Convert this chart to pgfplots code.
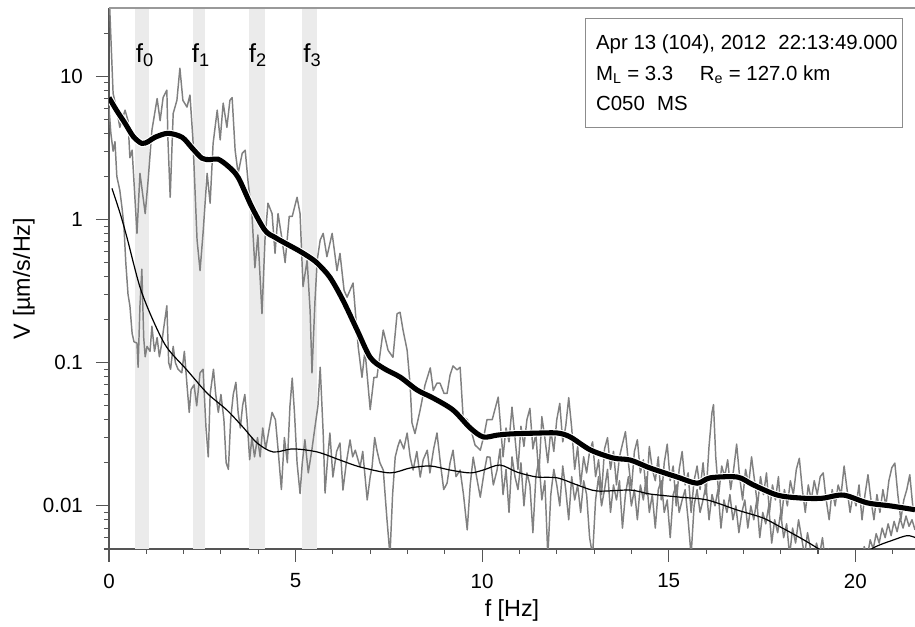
\documentclass[border=0pt]{standalone}
\usepackage{fontspec}
\setmainfont{Liberation Sans}
\usepackage{pgfplots}
\usepackage{pgfplotstable}
\pgfplotsset{compat=1.18}
\definecolor{band}{RGB}{235,235,235}
\definecolor{graytr}{RGB}{128,128,128}
\definecolor{axc}{RGB}{85,85,85}

\pgfplotstableread{
x v
0.00 40
0.11 7.6
0.21 5.8
0.29 4.4
0.43 5.8
0.51 4.9
0.56 2.7
0.62 3.05
0.75 0.80
0.83 2.1
0.97 1.1
1.05 1.9
1.15 4.2
1.29 7.0
1.37 4.9
1.45 7.1
1.55 8.0
1.58 3.6
1.64 1.43
1.72 5.5
1.82 6.8
1.90 11.4
1.98 6.8
2.09 6.1
2.17 7.4
2.25 3.6
2.36 0.72
2.44 0.44
2.52 0.80
2.63 2.1
2.71 1.3
2.79 3.4
2.90 5.8
2.98 3.6
3.06 6.5
3.16 4.4
3.24 6.8
3.30 7.1
3.38 3.05
3.46 2.1
3.57 2.9
3.65 3.05
3.73 1.8
3.83 1.1
3.91 0.46
3.99 0.78
4.10 0.22
4.18 0.72
4.26 1.3
4.37 1.1
4.45 0.58
4.53 1.1
4.64 0.72
4.72 0.5
4.83 1.05
4.91 1.05
5.04 1.43
5.12 1.1
5.20 0.34
5.31 0.52
5.39 0.23
5.44 0.085
5.52 0.27
5.58 0.52
5.66 0.72
5.74 0.80
5.84 0.55
5.98 0.80
6.11 0.44
6.19 0.58
6.30 0.32
6.38 0.287
6.54 0.36
6.68 0.128
6.78 0.079
6.86 0.122
7.00 0.047
7.10 0.079
7.18 0.079
7.35 0.169
7.48 0.122
7.61 0.109
7.72 0.22
7.80 0.225
7.88 0.169
7.99 0.122
8.07 0.07
8.12 0.038
8.20 0.032
8.34 0.047
8.47 0.07
8.61 0.092
8.69 0.064
8.79 0.072
8.87 0.072
8.98 0.061
9.06 0.061
9.14 0.082
9.22 0.095
9.33 0.089
9.41 0.093
9.49 0.0417
9.60 0.04
9.68 0.0356
9.81 0.0266
9.95 0.0245
10.05 0.031
10.13 0.04
10.27 0.04
10.43 0.0575
10.48 0.040
10.56 0.022
10.64 0.035
10.72 0.028
10.80 0.049
10.88 0.030
10.96 0.018
11.04 0.036
11.12 0.026
11.20 0.040
11.28 0.048
11.36 0.025
11.44 0.032
11.52 0.016
11.60 0.042
11.68 0.030
11.76 0.020
11.84 0.034
11.92 0.024
12.00 0.040
12.08 0.052
12.16 0.028
12.24 0.036
12.32 0.057
12.40 0.035
12.48 0.018
12.56 0.026
12.64 0.014
12.72 0.022
12.80 0.017
12.88 0.024
12.96 0.028
13.04 0.016
13.12 0.021
13.20 0.012
13.28 0.025
13.36 0.030
13.44 0.018
13.52 0.024
13.60 0.014
13.68 0.022
13.76 0.027
13.84 0.033
13.92 0.020
14.00 0.013
14.08 0.024
14.16 0.029
14.24 0.017
14.32 0.021
14.40 0.012
14.48 0.026
14.56 0.018
14.64 0.015
14.72 0.022
14.80 0.011
14.88 0.020
14.96 0.027
15.04 0.015
15.12 0.019
15.20 0.010
15.28 0.018
15.36 0.024
15.44 0.014
15.52 0.017
15.60 0.009
15.68 0.015
15.76 0.019
15.84 0.013
15.92 0.020
16.00 0.012
16.08 0.026
16.16 0.045
16.20 0.051
16.26 0.022
16.34 0.012
16.42 0.019
16.50 0.016
16.58 0.021
16.66 0.013
16.74 0.018
16.82 0.027
16.90 0.016
16.98 0.011
17.06 0.018
17.14 0.014
17.22 0.022
17.30 0.015
17.38 0.010
17.46 0.016
17.54 0.012
17.62 0.017
17.70 0.009
17.78 0.014
17.86 0.011
17.94 0.016
18.02 0.008
18.10 0.013
18.18 0.010
18.26 0.015
18.34 0.012
18.42 0.018
18.50 0.0215
18.58 0.013
18.66 0.009
18.74 0.014
18.82 0.011
18.90 0.015
18.98 0.012
19.06 0.016
19.14 0.017
19.22 0.011
19.30 0.008
19.38 0.013
19.46 0.010
19.54 0.014
19.62 0.012
19.70 0.019
19.78 0.013
19.86 0.009
19.94 0.012
20.02 0.010
20.10 0.014
20.18 0.008
20.26 0.012
20.34 0.0165
20.42 0.011
20.50 0.008
20.58 0.012
20.66 0.009
20.74 0.013
20.82 0.010
20.90 0.015
20.98 0.0185
21.06 0.0199
21.14 0.012
21.22 0.008
21.30 0.011
21.38 0.013
21.46 0.0165
21.54 0.010
21.62 0.009
}\sigraw

\pgfplotstableread{
x v
0.00 6.0
0.05 4.0
0.11 3.0
0.16 3.5
0.21 2.0
0.29 1.6
0.35 1.2
0.40 0.9
0.45 0.5
0.51 0.30
0.56 0.25
0.62 0.16
0.67 0.14
0.75 0.137
0.78 0.093
0.83 0.25
0.88 0.45
0.93 0.15
0.97 0.11
1.02 0.13
1.10 0.12
1.15 0.18
1.22 0.12
1.29 0.15
1.35 0.11
1.40 0.13
1.46 0.17
1.55 0.25
1.60 0.10
1.65 0.09
1.72 0.13
1.78 0.10
1.85 0.09
1.95 0.085
2.02 0.12
2.09 0.07
2.15 0.045
2.20 0.065
2.28 0.07
2.35 0.05
2.44 0.085
2.52 0.09
2.60 0.035
2.66 0.022
2.71 0.06
2.80 0.09
2.86 0.06
2.93 0.045
3.00 0.06
3.08 0.04
3.14 0.02
3.20 0.018
3.26 0.04
3.33 0.06
3.40 0.073
3.46 0.045
3.52 0.035
3.58 0.05
3.64 0.06
3.70 0.04
3.77 0.021
3.83 0.03
3.90 0.022
3.98 0.03
4.05 0.022
4.12 0.035
4.20 0.025
4.28 0.033
4.37 0.045
4.46 0.04
4.53 0.025
4.62 0.013
4.70 0.03
4.78 0.02
4.85 0.05
4.91 0.078
4.97 0.045
5.04 0.02
5.12 0.0122
5.18 0.02
5.25 0.029
5.34 0.017
5.44 0.025
5.52 0.0356
5.60 0.05
5.66 0.093
5.74 0.0323
5.79 0.0123
5.85 0.02
5.92 0.0323
6.00 0.0159
6.10 0.024
6.19 0.0275
6.27 0.0129
6.36 0.02
6.46 0.0289
6.53 0.022
6.60 0.0245
6.73 0.0187
6.80 0.024
6.92 0.011
7.00 0.016
7.05 0.0187
7.12 0.03
7.18 0.0245
7.26 0.02
7.35 0.0178
7.45 0.008
7.53 0.0045
7.60 0.012
7.67 0.0219
7.74 0.026
7.80 0.0289
7.90 0.025
7.99 0.0323
8.07 0.022
8.15 0.0178
8.25 0.024
8.34 0.0159
8.42 0.021
8.53 0.0245
8.60 0.017
8.70 0.025
8.79 0.0323
8.88 0.02
8.97 0.013
9.06 0.0144
9.14 0.02
9.22 0.0245
9.30 0.016
9.41 0.0178
9.50 0.012
9.60 0.0068
9.68 0.014
9.76 0.0219
9.85 0.016
9.95 0.0115
10.05 0.017
10.13 0.022
10.21 0.0219
10.30 0.014
10.40 0.0178
10.48 0.025
10.56 0.012
10.64 0.018
10.72 0.009
10.80 0.022
10.88 0.016
10.96 0.013
11.04 0.020
11.12 0.010
11.20 0.017
11.28 0.014
11.36 0.0065
11.44 0.016
11.52 0.021
11.60 0.011
11.68 0.015
11.76 0.0045
11.84 0.012
11.92 0.018
12.00 0.014
12.08 0.010
12.16 0.019
12.24 0.013
12.32 0.008
12.40 0.016
12.48 0.011
12.56 0.014
12.64 0.009
12.72 0.015
12.80 0.012
12.88 0.006
12.96 0.0045
13.04 0.011
13.12 0.016
13.20 0.010
13.28 0.013
13.36 0.018
13.44 0.009
13.52 0.014
13.60 0.011
13.68 0.015
13.76 0.007
13.84 0.012
13.92 0.016
14.00 0.010
14.08 0.013
14.16 0.008
14.24 0.014
14.32 0.011
14.40 0.016
14.48 0.009
14.56 0.012
14.64 0.007
14.72 0.013
14.80 0.015
14.88 0.009
14.96 0.011
15.04 0.006
15.12 0.012
15.20 0.014
15.28 0.009
15.36 0.011
15.44 0.013
15.52 0.008
15.60 0.0045
15.68 0.010
15.76 0.013
15.84 0.009
15.92 0.011
16.00 0.014
16.08 0.008
16.16 0.012
16.24 0.010
16.32 0.013
16.40 0.007
16.48 0.011
16.56 0.009
16.64 0.012
16.72 0.008
16.80 0.010
16.88 0.0065
16.96 0.009
17.04 0.011
17.12 0.007
17.20 0.010
17.28 0.008
17.36 0.011
17.44 0.006
17.52 0.009
17.60 0.0075
17.68 0.010
17.76 0.0055
17.84 0.008
17.92 0.0065
18.00 0.009
18.08 0.006
18.16 0.0075
18.24 0.0045
18.32 0.007
18.40 0.0055
18.48 0.008
18.56 0.006
18.64 0.0045
18.72 0.0065
18.80 0.005
18.88 0.004
18.96 0.0055
19.04 0.0045
19.12 0.006
19.20 0.004
19.28 0.005
19.36 0.0038
19.44 0.0045
19.52 0.0035
19.60 0.0042
19.68 0.0032
19.76 0.004
19.84 0.0045
19.92 0.0035
20.00 0.0042
20.08 0.0048
20.16 0.0038
20.24 0.0052
20.32 0.0044
20.40 0.0058
20.48 0.005
20.56 0.0064
20.64 0.0055
20.72 0.007
20.80 0.006
20.88 0.0075
20.96 0.0062
21.04 0.0078
21.12 0.0066
21.20 0.0082
21.28 0.007
21.36 0.0085
21.44 0.0072
21.52 0.008
21.60 0.0068
}\noiseraw

\pgfplotstableread{
x v
0.00 7.1
0.20 5.8
0.43 4.7
0.65 3.8
0.88 3.4
1.05 3.5
1.23 3.75
1.58 4.0
1.96 3.75
2.23 3.15
2.49 2.68
2.70 2.62
2.92 2.64
3.19 2.36
3.46 1.97
3.83 1.22
4.18 0.84
4.45 0.75
4.72 0.684
5.07 0.61
5.35 0.55
5.58 0.496
5.92 0.395
6.27 0.273
6.65 0.169
7.00 0.109
7.35 0.0917
7.80 0.0794
8.26 0.0644
8.69 0.0566
9.22 0.0467
9.68 0.035
10.03 0.0303
10.40 0.0312
10.75 0.0318
11.40 0.0322
12.01 0.0323
12.36 0.0303
12.90 0.0246
13.51 0.0216
13.97 0.0209
14.50 0.0184
15.23 0.0159
15.76 0.0144
16.11 0.0157
16.84 0.0159
17.27 0.0140
17.91 0.0119
18.53 0.01135
19.10 0.0113
19.68 0.0119
20.32 0.0105
20.94 0.0100
21.60 0.0094
}\sigsmooth

\pgfplotstableread{
x v
0.08 1.65
0.30 1.10
0.48 0.751
0.83 0.337
1.18 0.198
1.55 0.128
2.09 0.0888
2.63 0.0613
3.16 0.0467
3.59 0.0355
3.97 0.0275
4.40 0.0238
4.93 0.0250
5.58 0.0238
6.19 0.0209
6.73 0.0187
7.53 0.0170
8.07 0.0184
8.61 0.0190
9.14 0.0178
9.68 0.0170
10.03 0.0178
10.48 0.0193
10.94 0.0172
11.47 0.0159
12.01 0.0157
12.55 0.0140
13.08 0.0127
13.97 0.0129
14.50 0.0121
15.31 0.0115
16.03 0.0110
16.84 0.00935
17.53 0.00823
17.99 0.00713
18.53 0.00597
18.98 0.00508
19.46 0.0042
20.00 0.0040
20.48 0.00508
21.02 0.00578
21.39 0.0062
21.61 0.0060
}\noisesmooth

\newcommand\tickfont{\fontsize{15.4}{18}\selectfont}
\newcommand\labfont{\fontsize{17.5}{20}\selectfont}
\newcommand\ffont{\fontsize{19.5}{22}\selectfont}

\begin{document}
\tickfont
\begin{tikzpicture}
\begin{axis}[
  at={(0,0)}, anchor=south west,
  scale only axis, width=604.5pt, height=405.75pt,
  ymode=log, xmin=0, xmax=21.6, ymin=0.005, ymax=30,
  clip mode=individual,
  axis x line*=bottom, axis y line*=left,
  axis line style={axc, line width=0.8pt},
  xtick={0,5,10,15,20},
  minor xtick={1,2,3,4,6,7,8,9,11,12,13,14,16,17,18,19,21},
  ytick={0.01,0.1,1,10}, yticklabels={0.01,0.1,1,10},
  minor ytick={0.005,0.006,0.007,0.008,0.009,0.02,0.03,0.04,0.05,0.06,0.07,0.08,0.09,0.2,0.3,0.4,0.5,0.6,0.7,0.8,0.9,2,3,4,5,6,7,8,9,20},
  tick align=outside,
  major tick length=9.75pt, minor tick length=3.75pt,
  every tick/.style={axc, line width=0.8pt},
  /pgf/number format/assume math mode=true,
  tick label style={font=\tickfont},
  yticklabel style={xshift=-4.5pt},
  xticklabel style={yshift=-3.5pt},
]
\addplot[draw=none, fill=band, forget plot] coordinates {(0.70,0.004) (0.70,40) (1.07,40) (1.07,0.004)} -- cycle;
\addplot[draw=none, fill=band, forget plot] coordinates {(2.24,0.004) (2.24,40) (2.58,40) (2.58,0.004)} -- cycle;
\addplot[draw=none, fill=band, forget plot] coordinates {(3.75,0.004) (3.75,40) (4.18,40) (4.18,0.004)} -- cycle;
\addplot[draw=none, fill=band, forget plot] coordinates {(5.17,0.004) (5.17,40) (5.57,40) (5.57,0.004)} -- cycle;

\node[font=\ffont] at (axis cs:0.96,14) {f\textsubscript{0}};
\node[font=\ffont] at (axis cs:2.46,14) {f\textsubscript{1}};
\node[font=\ffont] at (axis cs:3.99,14) {f\textsubscript{2}};
\node[font=\ffont] at (axis cs:5.45,14) {f\textsubscript{3}};

\addplot[graytr, line width=1.1pt, line join=round] table[x=x,y=v] {\noiseraw};
\addplot[graytr, line width=1.1pt, line join=round] table[x=x,y=v] {\sigraw};
\addplot[black, line width=0.9pt, smooth] table[x=x,y=v] {\noisesmooth};
\addplot[white, line width=5.4pt, smooth] table[x=x,y=v] {\sigsmooth};
\addplot[black, line width=3.8pt, smooth] table[x=x,y=v] {\sigsmooth};

\draw[black!40, line width=0.8pt] (rel axis cs:0,1) -- (rel axis cs:1,1);

\node[draw=black!45, fill=white, line width=0.8pt, anchor=north east,
      minimum width=237.75pt, minimum height=81.75pt, inner sep=0pt]
  (infobox) at (axis description cs:0.985,0.9815) {};
\node[anchor=west, inner sep=0pt, xshift=8.25pt, align=left,
      font=\fontsize{15.3}{22.9}\selectfont]
  at (infobox.west)
  {Apr 13 (104), 2012\hspace{0.6em}22:13:49.000\\
   M\textsubscript{L} = 3.3\hspace{1.3em}R\textsubscript{e} = 127.0 km\\
   C050\hspace{0.6em}MS};

\node[rotate=90, font=\labfont] at (axis description cs:-0.1055,0.5) {V [µm/s/Hz]};
\node[font=\labfont] at (axis description cs:0.5,-0.1128) {f [Hz]};
\end{axis}
\pgfresetboundingbox
\useasboundingbox (-81.75pt,-58.5pt) rectangle (604.5pt,411.75pt);
\end{tikzpicture}
\end{document}
